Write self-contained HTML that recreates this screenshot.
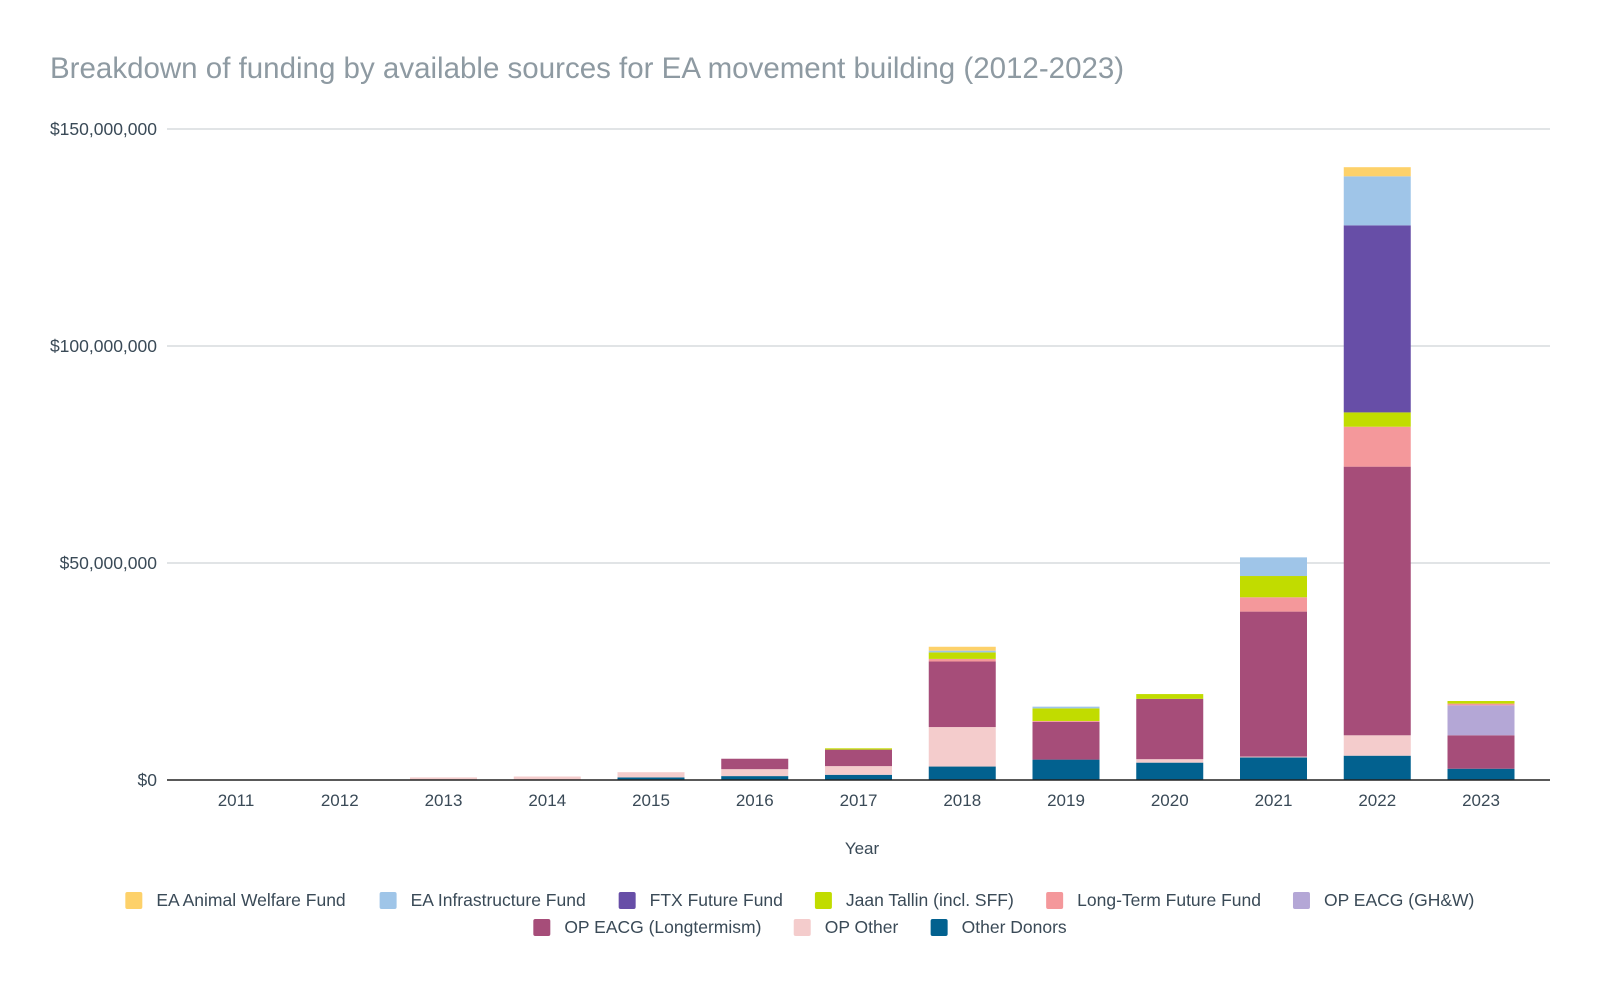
<!DOCTYPE html>
<html><head><meta charset="utf-8"><style>
body{margin:0;background:#fff;}
svg text{font-family:"Liberation Sans",Arial,sans-serif;}
</style></head><body>
<svg id="chart" width="1600" height="988" xmlns="http://www.w3.org/2000/svg">
<text x="50" y="78" font-size="29.5" fill="#8e9aa2">Breakdown of funding by available sources for EA movement building (2012-2023)</text>
<g id="grid"></g><g id="bars"></g><g id="xaxis"></g>
<text x="862" y="854" font-size="17" fill="#3a4a57" text-anchor="middle">Year</text>
<g id="legend"></g>
</svg>
<script>
const years=["2011","2012","2013","2014","2015","2016","2017","2018","2019","2020","2021","2022","2023"];
const seriesNames=["Other Donors","OP Other","OP EACG (Longtermism)","OP EACG (GH&W)","Long-Term Future Fund","Jaan Tallin (incl. SFF)","FTX Future Fund","EA Infrastructure Fund","EA Animal Welfare Fund"];
const otherDonors=[0,0,0,0.1,0.6,0.9,1.2,3.1,4.7,4.0,5.2,5.6,2.6];
const opOther=[0,0,0.6,0.7,1.2,1.6,2.0,9.1,0,0.8,0.2,4.7,0];
const opLongtermism=[0,0,0,0,0,2.4,3.8,15.1,8.7,13.9,33.4,61.9,7.7];
const opGHW=[0,0,0,0,0,0,0,0,0,0,0,0,6.9];
const ltff=[0,0,0,0,0,0,0,0.6,0.2,0,3.3,9.2,0.4];
const jaan=[0,0,0,0,0,0,0.3,1.5,2.9,1.1,4.9,3.3,0.6];
const ftx=[0,0,0,0,0,0,0,0,0,0,0,43.1,0];
const eaif=[0,0,0,0,0,0,0,0.4,0.4,0,4.3,11.3,0];
const awf=[0,0,0,0,0,0,0,0.9,0,0,0,2.1,0];
const yTicks=[0,50,100,150];
const yTickLabels=["$0","$50,000,000","$100,000,000","$150,000,000"];
const seriesData=[otherDonors,opOther,opLongtermism,opGHW,ltff,jaan,ftx,eaif,awf];
const colors=["#02618f","#f4cccc","#a64d79","#b4a7d6","#f4989b","#c1dc00","#674ea7","#9fc5e8","#fdd16a"];
const NS="http://www.w3.org/2000/svg";
const y0=780,yTop=129,left=167,right=1550;
const y=v=>y0-(v/150)*(y0-yTop);
const xc=i=>236+i*103.75;
const bw=67;
function mk(tag,attrs,parent){const e=document.createElementNS(NS,tag);for(const k in attrs)e.setAttribute(k,attrs[k]);parent.appendChild(e);return e;}
const grid=document.getElementById('grid');
yTicks.forEach((t,i)=>{
 if(t>0){const l=mk('line',{x1:left,x2:right,y1:y(t),y2:y(t),stroke:'#cfd3d6','stroke-width':1.3},grid);
 
 }
 const tx=mk('text',{x:157,y:y(t)+6,'font-size':17.5,fill:'#3a4a57','text-anchor':'end'},grid);
 tx.textContent=yTickLabels[i];
 
 
});
const bars=document.getElementById('bars');
years.forEach((yr,i)=>{
 let acc=0;
 seriesData.forEach((s,k)=>{
  const v=s[i]; if(v<=0)return;
  const r=mk('rect',{x:xc(i)-bw/2,y:y(acc+v),width:bw,height:y(acc)-y(acc+v),fill:colors[k]},bars);
  
  
  acc+=v;
 });
});
const xa=document.getElementById('xaxis');
const ax=mk('line',{x1:left,x2:right,y1:y0,y2:y0,stroke:'#222','stroke-width':1.5},xa);


years.forEach((yr,i)=>{
 const t=mk('text',{x:xc(i),y:y0+26,'font-size':17,fill:'#3a4a57','text-anchor':'middle'},xa);
 t.textContent=yr;
 
 
});
const leg=document.getElementById('legend');
const row1=[8,7,6,5,4,3],row2=[2,1,0];
const rows=[[row1,905],[row2,932]];
const ctx=document.createElement('canvas').getContext('2d');ctx.font='17.5px "Liberation Sans", Arial, sans-serif';
rows.forEach(([idx,yy])=>{
 const widths=idx.map(k=>31+ctx.measureText(seriesNames[k]).width);
 const gap=32;const total=widths.reduce((a,b)=>a+b,0)+gap*(idx.length-1);
 let x=800-total/2;
 idx.forEach((k,j)=>{
  const g=mk('g',{},leg);
  
  
  mk('rect',{x:x,y:yy-13,width:17,height:17,rx:2,fill:colors[k]},g);
  const t=mk('text',{x:x+31,y:yy+1,'font-size':17.5,fill:'#3a4a57'},g);
  t.textContent=seriesNames[k];
  x+=widths[j]+gap;
 });
});
</script>
</body></html>
